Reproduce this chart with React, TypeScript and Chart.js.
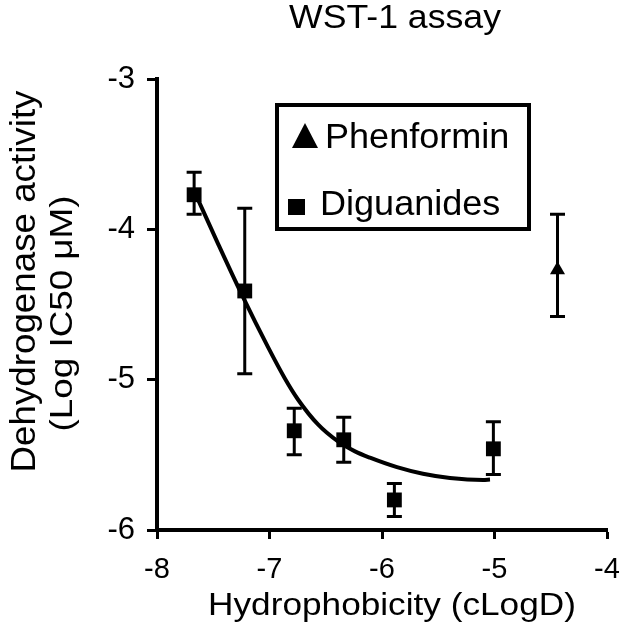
import React, { useEffect, useRef } from "react";
import { Chart, registerables } from "chart.js";

Chart.register(...registerables);

const FONT = "'Liberation Sans', Arial, Helvetica, sans-serif";

// Diguanides series (cLogD, log IC50) with error bar limits
const digX = [-7.67, -7.22, -6.78, -6.34, -5.89, -5.01];
const digY = [-3.77, -4.41, -5.34, -5.40, -5.80, -5.46];
const digHi = [-3.62, -3.86, -5.19, -5.25, -5.69, -5.28];
const digLo = [-3.90, -4.96, -5.50, -5.55, -5.91, -5.63];

// Phenformin series
const pheX = [-4.44];
const pheY = [-4.27];
const pheHi = [-3.90];
const pheLo = [-4.58];

// Fitted curve
const fitX = [-7.662, -7.458, -7.244, -7.013, -6.862, -6.747, -6.569, -6.391, -6.24, -6.107, -5.867, -5.636, -5.396, -5.102, -5.04];
const fitY = [-3.758, -4.095, -4.438, -4.784, -4.994, -5.132, -5.298, -5.411, -5.477, -5.519, -5.582, -5.626, -5.654, -5.667, -5.664];

// Tick labels
const xTicks = [-8, -7, -6, -5, -4];
const yTicks = [-6, -5, -4, -3];

// Text
const chartTitle = "WST-1 assay";
const xTitle = "Hydrophobicity (cLogD)";
const yTitle = ["Dehydrogenase activity", "(Log IC50 μM)"];
const legendLabels = ["Phenformin", "Diguanides"];

const errorBarPlugin = {
  id: "errorBars",
  beforeDatasetsDraw(chart: any) {
    const { ctx, scales } = chart;
    const xs = scales.x;
    const ys = scales.y;
    const drawSet = (xv: number[], hi: number[], lo: number[]) => {
      xv.forEach((v, i) => {
        const px = xs.getPixelForValue(v);
        const t = ys.getPixelForValue(hi[i]);
        const b = ys.getPixelForValue(lo[i]);
        const cap = 7.5;
        ctx.save();
        ctx.strokeStyle = "#000";
        ctx.lineWidth = 3;
        ctx.beginPath();
        ctx.moveTo(px, t);
        ctx.lineTo(px, b);
        ctx.moveTo(px - cap, t);
        ctx.lineTo(px + cap, t);
        ctx.moveTo(px - cap, b);
        ctx.lineTo(px + cap, b);
        ctx.stroke();
        ctx.restore();
      });
    };
    drawSet(digX, digHi, digLo);
    drawSet(pheX, pheHi, pheLo);
  },
};

function stretchedText(
  ctx: CanvasRenderingContext2D,
  text: string,
  x: number,
  y: number,
  size: number,
  sx: number,
  rotate: boolean,
  align: CanvasTextAlign = "center"
) {
  ctx.save();
  ctx.font = `${size}px ${FONT}`;
  ctx.textAlign = align;
  ctx.textBaseline = "alphabetic";
  ctx.translate(x, y);
  if (rotate) ctx.rotate(-Math.PI / 2);
  ctx.scale(sx, 1);
  ctx.fillText(text, 0, 0);
  ctx.restore();
}

const textPlugin = {
  id: "texts",
  afterDraw(chart: any) {
    const { ctx, chartArea } = chart;
    const cx = (chartArea.left + chartArea.right) / 2;
    const midY = (chartArea.top + chartArea.bottom) / 2;
    ctx.save();
    ctx.fillStyle = "#000";
    // chart title
    stretchedText(ctx, chartTitle, cx + 13, chartArea.top - 51, 33, 1.08, false);
    // x axis title
    stretchedText(ctx, xTitle, cx + 10, chartArea.bottom + 85, 32, 1.1, false);
    // y axis title (rotated)
    stretchedText(ctx, yTitle[0], 35, midY - 23, 35, 1.05, true);
    stretchedText(ctx, yTitle[1], 72, midY + 9, 32, 1.15, true);

    // boxed legend
    const left = chartArea.left + 120;
    const top = chartArea.top + 26;
    const w = 252;
    const h = 124;
    ctx.strokeStyle = "#000";
    ctx.lineWidth = 4;
    ctx.strokeRect(left, top, w, h);
    ctx.beginPath();
    ctx.moveTo(left + 28, top + 18);
    ctx.lineTo(left + 41, top + 43);
    ctx.lineTo(left + 15, top + 43);
    ctx.closePath();
    ctx.fill();
    ctx.fillRect(left + 11, top + 94, 17, 16);
    stretchedText(ctx, legendLabels[0], left + 48, top + 43, 35, 1.03, false, "left");
    stretchedText(ctx, legendLabels[1], left + 43, top + 110, 35, 1.03, false, "left");
    ctx.restore();
  },
};

export default function App() {
  const ref = useRef<HTMLCanvasElement>(null);
  useEffect(() => {
    document.body.style.margin = "0";
    const canvas = ref.current!;
    const gridOpts = (tl: number) => ({
      display: true,
      drawOnChartArea: false,
      drawTicks: true,
      tickLength: tl,
      tickWidth: 3,
      tickColor: "#000",
    });
    const chart = new Chart(canvas, {
      type: "scatter",
      data: {
        datasets: [
          {
            label: "Fit",
            data: fitX.map((x, i) => ({ x, y: fitY[i] })),
            showLine: true,
            borderColor: "#000",
            borderWidth: 4,
            pointRadius: 0,
            tension: 0.4,
            cubicInterpolationMode: "monotone",
            fill: false,
          } as any,
          {
            label: legendLabels[1],
            data: digX.map((x, i) => ({ x, y: digY[i] })),
            pointStyle: "rect",
            pointRadius: 10.5,
            backgroundColor: "#000",
            borderColor: "#000",
            borderWidth: 0,
          },
          {
            label: legendLabels[0],
            data: pheX.map((x, i) => ({ x, y: pheY[i] })),
            pointStyle: "triangle",
            pointRadius: 8.7,
            backgroundColor: "#000",
            borderColor: "#000",
            borderWidth: 0,
          },
        ],
      },
      options: {
        responsive: false,
        animation: false,
        events: [],
        layout: { padding: { left: 0, right: 0, top: 79, bottom: 0 } },
        plugins: {
          legend: { display: false },
          tooltip: { enabled: false },
          title: { display: false },
        },
        scales: {
          x: {
            type: "linear",
            min: -8,
            max: -4,
            afterBuildTicks: (s: any) => {
              s.ticks = xTicks.map((v) => ({ value: v }));
            },
            afterFit: (s: any) => {
              s.height = 100;
              s.paddingRight = 18;
              s.paddingLeft = 0;
            },
            grid: gridOpts(9),
            border: { display: true, color: "#000", width: 4 },
            ticks: {
              color: "#000",
              font: { family: FONT, size: 29 },
              padding: 14,
              maxRotation: 0,
              callback: (v: any) => String(v),
            },
            title: { display: false },
          },
          y: {
            type: "linear",
            min: -6,
            max: -3,
            afterBuildTicks: (s: any) => {
              s.ticks = yTicks.map((v) => ({ value: v }));
            },
            afterFit: (s: any) => {
              s.width = 157;
            },
            grid: gridOpts(10),
            border: { display: true, color: "#000", width: 4 },
            ticks: {
              color: "#000",
              font: { family: FONT, size: 31 },
              padding: 12,
              callback: (v: any) => String(v),
            },
            title: { display: false },
          },
        },
      },
      plugins: [errorBarPlugin, textPlugin],
    });
    return () => chart.destroy();
  }, []);
  return (
    <div style={{ position: "absolute", left: 0, top: 0, width: 625, height: 630 }}>
      <canvas ref={ref} width={625} height={630} />
    </div>
  );
}
